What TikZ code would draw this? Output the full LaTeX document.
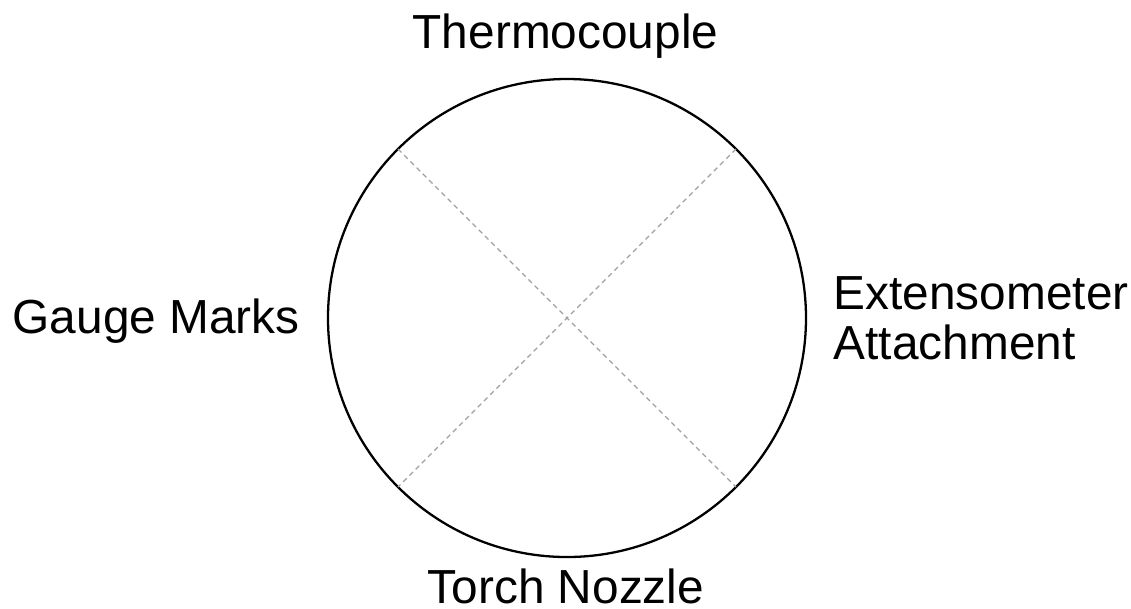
\documentclass[tikz,border=0pt]{standalone}
\usepackage{fontspec}
\setmainfont{Liberation Sans}
\usepackage{tikz}
\usetikzlibrary{positioning, calc}
\definecolor{myGrey}{HTML}{A0A0A0}

\begin{document}
\begin{tikzpicture}[
  disc/.style={draw=black, line width=0.65pt, circle, minimum size=4.78cm,
               inner sep=0pt, outer sep=0pt},
  cross/.style={myGrey, line width=0.35pt, dash pattern=on 1.4pt off 1.1pt},
  lbl/.style={font=\fontsize{13.6}{14.2}\selectfont, inner sep=0pt, align=left}
]
\useasboundingbox (0,0) rectangle (11.31,-6.08);
\node[disc] (wheel) at (5.67,-3.18) {};
\draw[cross] (wheel.135) -- (wheel.-45);
\draw[cross] (wheel.45) -- (wheel.-135);
\node[lbl, anchor=base] (thermo) at (5.655,-0.48) {Thermocouple};
\node[lbl, anchor=base] (torch)  at (5.66,-6.03) {Torch Nozzle};
\node[lbl, anchor=base west] (gauge) at (0.12,-3.33) {Gauge Marks};
\node[lbl, anchor=west] (exten) at (8.33,-3.18) {Extensometer\\Attachment};
\end{tikzpicture}
\end{document}
